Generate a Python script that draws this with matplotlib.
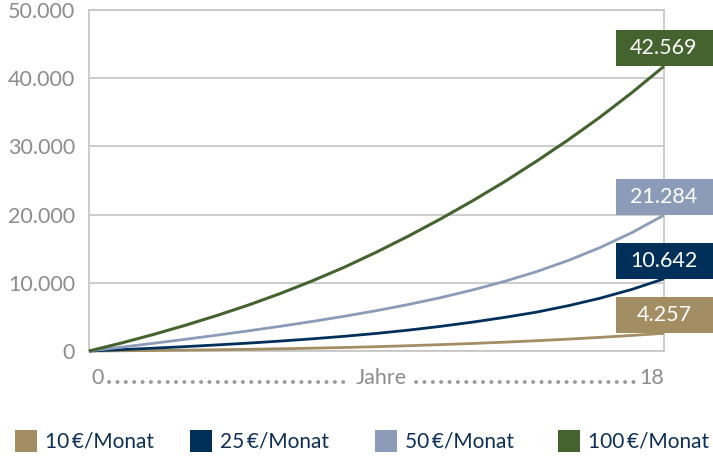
import matplotlib
matplotlib.use("Agg")
import matplotlib.pyplot as plt
import matplotlib.transforms as mtransforms
from matplotlib.patches import Rectangle

plt.rcParams['font.family'] = ['Lato', 'DejaVu Sans']

# ---- data (values in EUR) ----
years = list(range(0, 19))
series_names = ["10\u2009€/Monat", "25\u2009€/Monat", "50\u2009€/Monat", "100\u2009€/Monat"]
s10 = [0, 35, 75, 125, 180, 245, 325, 415, 515, 635, 775, 930, 1105, 1295, 1505, 1740, 2000, 2285, 2595]
s25 = [0, 200, 410, 640, 890, 1160, 1460, 1790, 2160, 2580, 3060, 3610, 4230, 4920, 5690, 6640, 7740, 9040, 10590]
s50 = [0, 550, 1120, 1710, 2320, 2960, 3630, 4340, 5100, 5920, 6820, 7820, 8940, 10200, 11620, 13270, 15170, 17370, 19920]
s100 = [0, 1150, 2400, 3750, 5200, 6750, 8450, 10300, 12300, 14500, 16850, 19350, 22000, 24800, 27800, 30950, 34300, 37900, 41750]
end_labels = ["4.257", "10.642", "21.284", "42.569"]
ytick_vals = [0, 10000, 20000, 30000, 40000, 50000]
ytick_labels = ["0", "10.000", "20.000", "30.000", "40.000", "50.000"]

colors = ["#A38D63", "#00305A", "#8B9BB8", "#45632E"]
widths = [2.0, 2.0, 2.0, 2.2]
gray = "#8C8C8C"

W, H = 713, 457
fig = plt.figure(figsize=(W / 100, H / 100), dpi=100)
ax = fig.add_axes([89 / W, 1 - 351 / H, (664 - 89) / W, (351 - 10) / H])

all_series = [s10, s25, s50, s100]
for vals, c, lw in zip(all_series, colors, widths):
    ax.plot(years, vals, color=c, lw=lw, solid_capstyle='butt', solid_joinstyle='round',
            zorder=3, clip_on=False)

ax.set_xlim(0, 18)
ax.set_ylim(0, 50000)
ax.set_yticks(ytick_vals)
ax.set_yticklabels(ytick_labels)
ax.tick_params(axis='y', length=0, pad=10, labelsize=15.5, labelcolor=gray)
ax.set_xticks([])
ax.grid(axis='y', color="#C4C4C4", lw=1.2, zorder=1)
for sp in ax.spines.values():
    sp.set_color("#C4C4C4")
    sp.set_linewidth(1.2)

# end-value boxes
for vals, c, lab in zip(all_series, colors, end_labels):
    off = mtransforms.ScaledTranslation(years[-1], vals[-1], ax.transData)
    rect = Rectangle((-0.485, 0), 0.97, 0.36, transform=fig.dpi_scale_trans + off,
                     facecolor=c, edgecolor='none', clip_on=False, zorder=6)
    ax.add_artist(rect)
    ax.annotate(lab, xy=(years[-1], vals[-1]), xytext=(0, 0.18 * 72),
                textcoords='offset points', ha='center', va='center',
                color='white', fontsize=15.5, zorder=7, annotation_clip=False)

# x-axis annotation: 0 ..... Jahre ..... 18
ty = (351 - 378) / (351 - 10)
ax.text(0.005, ty, "0", transform=ax.transAxes, ha='left', va='center', color=gray, fontsize=15.5)
ax.text(1, ty, "18", transform=ax.transAxes, ha='right', va='center', color=gray, fontsize=15.5)
ax.text((381 - 89) / (664 - 89), ty, "Jahre", transform=ax.transAxes, ha='center', va='center',
        color=gray, fontsize=15.5)
dy = (351 - 382) / (351 - 10)
for x0, x1 in [(109, 347), (416, 637)]:
    ax.plot([(x0 - 89) / 575, (x1 - 89) / 575], [dy, dy], transform=ax.transAxes, clip_on=False,
            color="#9A9A9A", lw=2.8, linestyle=(0, (0.05, 2.1)), dash_capstyle='round')

# legend
leg_sq_x = [15, 190, 375, 558]
for x, c, name in zip(leg_sq_x, colors, series_names):
    fig.add_artist(Rectangle((x / W, 1 - 452 / H), 22 / W, 22 / H, transform=fig.transFigure,
                             facecolor=c, edgecolor='none'))
    fig.text((x + 30) / W, 1 - 442 / H, name, ha='left', va='center', color="#0D2F57", fontsize=15)

fig.savefig("out.png", dpi=100)
